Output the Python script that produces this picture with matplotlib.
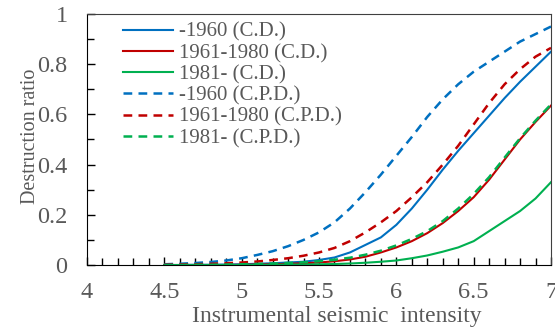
import numpy as np
import matplotlib
matplotlib.use('Agg')
import matplotlib.pyplot as plt
from matplotlib.ticker import MultipleLocator

intensity = np.round(np.arange(4.5, 7.01, 0.1), 1)

# destruction ratio
cd_1960 = [0.0, 0.0, 0.001, 0.001, 0.002, 0.003, 0.005, 0.007, 0.01, 0.013, 0.02, 0.03, 0.05,
           0.08, 0.11, 0.16, 0.225, 0.30, 0.38, 0.455, 0.525, 0.595, 0.665, 0.73, 0.79, 0.85]
cd_1961_1980 = [0.0, 0.0, 0.0, 0.0, 0.0, 0.001, 0.002, 0.003, 0.005, 0.007, 0.01, 0.015, 0.022,
                0.033, 0.05, 0.07, 0.095, 0.127, 0.167, 0.215, 0.27, 0.34, 0.42, 0.5, 0.57, 0.635]
cd_1981 = [0.0, 0.0, 0.0, 0.0, 0.0, 0.0, 0.001, 0.001, 0.002, 0.002, 0.003, 0.004, 0.006,
           0.009, 0.013, 0.018, 0.027, 0.038, 0.053, 0.07, 0.095, 0.135, 0.175, 0.215, 0.265, 0.33]
cpd_1960 = [0.003, 0.005, 0.008, 0.012, 0.018, 0.027, 0.04, 0.055, 0.075, 0.10, 0.13, 0.17, 0.225,
            0.29, 0.36, 0.435, 0.51, 0.59, 0.66, 0.72, 0.77, 0.81, 0.85, 0.89, 0.92, 0.95]
cpd_1961_1980 = [0.001, 0.002, 0.003, 0.005, 0.007, 0.01, 0.014, 0.02, 0.027, 0.037, 0.05, 0.068, 0.095,
                 0.13, 0.17, 0.215, 0.27, 0.33, 0.40, 0.475, 0.56, 0.645, 0.72, 0.78, 0.83, 0.865]
cpd_1981 = [0.0, 0.0, 0.001, 0.001, 0.002, 0.003, 0.004, 0.006, 0.008, 0.011, 0.015, 0.021, 0.029,
            0.041, 0.057, 0.078, 0.104, 0.135, 0.175, 0.225, 0.283, 0.35, 0.428, 0.505, 0.575, 0.64]

labels = ['-1960 (C.D.)', '1961-1980 (C.D.)', '1981- (C.D.)',
          '-1960 (C.P.D.)', '1961-1980 (C.P.D.)', '1981- (C.P.D.)']
xticks = [4, 4.5, 5, 5.5, 6, 6.5, 7]
xticklabels = ['4', '4.5', '5', '5.5', '6', '6.5', '7']
yticks = [0, 0.2, 0.4, 0.6, 0.8, 1.0]
yticklabels = ['0', '0.2', '0.4', '0.6', '0.8', '1']

blue, red, green = '#0070C0', '#C00000', '#00B050'
gray = '#595959'

plt.rcParams['font.family'] = ['Liberation Serif', 'DejaVu Serif']

fig = plt.figure(figsize=(5.55, 3.29), dpi=100)
ax = fig.add_axes([0.1568, 0.1945, 0.836, 0.763])

dash = (0, (3.5, 2.5))
ax.plot(intensity, cd_1960, color=blue, lw=1.5, label=labels[0])
ax.plot(intensity, cd_1961_1980, color=red, lw=1.5, label=labels[1])
ax.plot(intensity, cd_1981, color=green, lw=1.5, label=labels[2])
ax.plot(intensity, cpd_1960, color=blue, lw=1.8, ls=dash, label=labels[3])
ax.plot(intensity, cpd_1961_1980, color=red, lw=1.8, ls=dash, label=labels[4])
ax.plot(intensity, cpd_1981, color=green, lw=1.8, ls=dash, label=labels[5])

ax.set_xlim(4, 7)
ax.set_ylim(0, 1)
ax.set_xticks(xticks)
ax.set_xticklabels(xticklabels)
ax.set_yticks(yticks)
ax.set_yticklabels(yticklabels)
ax.xaxis.set_minor_locator(MultipleLocator(0.1))
ax.yaxis.set_minor_locator(MultipleLocator(0.1))

ax.tick_params(which='both', direction='in', colors='black', labelcolor=gray,
               labelsize=17.5, top=False, right=False)
ax.tick_params(which='major', length=6, width=1)
ax.tick_params(which='minor', length=5, width=1)
ax.tick_params(axis='x', pad=12)
ax.tick_params(axis='y', pad=14)

for side in ['top', 'right']:
    ax.spines[side].set_color('#404040')
for side in ['left', 'bottom']:
    ax.spines[side].set_color('black')

ax.set_xlabel('Instrumental seismic  intensity', fontsize=17, color=gray)
ax.xaxis.set_label_coords(0.539, -0.162)
ax.set_ylabel('Destruction ratio', fontsize=14.5, color=gray)
ax.yaxis.set_label_coords(-0.102, 0.514)

leg = ax.legend(loc='upper left', bbox_to_anchor=(0.059, 1.0), frameon=False,
                fontsize=15, handlelength=2.4, handletextpad=0.3, labelspacing=0.08,
                labelcolor=gray, borderaxespad=0.0)

fig.savefig('out.png', dpi=100)
